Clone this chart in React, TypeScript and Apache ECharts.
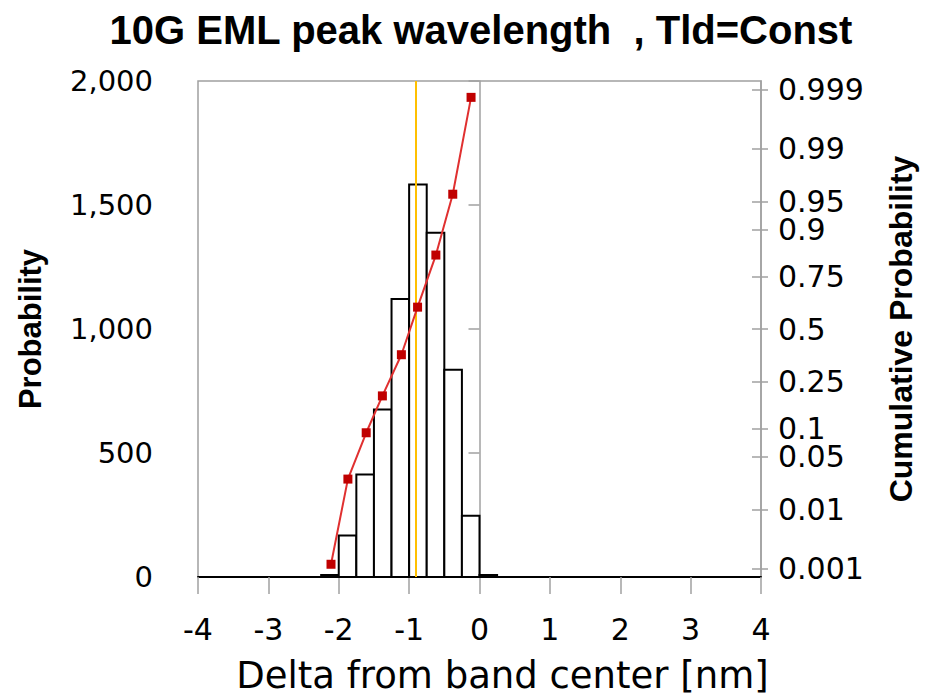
import React, { useEffect, useRef } from "react";
import * as echarts from "echarts";

const TITLE = "10G EML peak wavelength  , Tld=Const";
const X_NAME = "Delta from band center [nm]";
const Y_LEFT_NAME = "Probability";
const Y_RIGHT_NAME = "Cumulative Probability";

// Histogram bins (centers, width 0.25 nm) and counts
const BIN_WIDTH = 0.25;
const binCenters = [-2.125, -1.875, -1.625, -1.375, -1.125, -0.875, -0.625, -0.375, -0.125, 0.125];
const binCounts = [8, 167, 413, 675, 1121, 1583, 1388, 836, 247, 8];

// Cumulative probability points
const cumX = [-2.11, -1.87, -1.61, -1.38, -1.11, -0.88, -0.62, -0.38, -0.12];
const cumP = [0.0012, 0.0264, 0.0903, 0.194, 0.37, 0.611, 0.83, 0.959, 0.9986];

// Right-axis probability tick labels
const probTicks = [0.001, 0.01, 0.05, 0.1, 0.25, 0.5, 0.75, 0.9, 0.95, 0.99, 0.999];

// Mean marker
const meanX = -0.9;

// Inverse normal CDF (Acklam)
function probit(p: number): number {
  const a = [-3.969683028665376e1, 2.209460984245205e2, -2.759285104469687e2, 1.38357751867269e2, -3.066479806614716e1, 2.506628277459239];
  const b = [-5.447609879822406e1, 1.615858368580409e2, -1.556989798598866e2, 6.680131188771972e1, -1.328068155288572e1];
  const c = [-7.784894002430293e-3, -3.223964580411365e-1, -2.400758277161838, -2.549732539343734, 4.374664141464968, 2.938163982698783];
  const d = [7.784695709041462e-3, 3.224671290700398e-1, 2.445134137142996, 3.754408661907416];
  const pl = 0.02425;
  if (p < pl) {
    const q = Math.sqrt(-2 * Math.log(p));
    return (((((c[0] * q + c[1]) * q + c[2]) * q + c[3]) * q + c[4]) * q + c[5]) / ((((d[0] * q + d[1]) * q + d[2]) * q + d[3]) * q + 1);
  }
  if (p > 1 - pl) {
    const q = Math.sqrt(-2 * Math.log(1 - p));
    return -(((((c[0] * q + c[1]) * q + c[2]) * q + c[3]) * q + c[4]) * q + c[5]) / ((((d[0] * q + d[1]) * q + d[2]) * q + d[3]) * q + 1);
  }
  const q = p - 0.5;
  const r = q * q;
  return ((((((a[0] * r + a[1]) * r + a[2]) * r + a[3]) * r + a[4]) * r + a[5]) * q) / (((((b[0] * r + b[1]) * r + b[2]) * r + b[3]) * r + b[4]) * r + 1);
}

const zTicks = probTicks.map(probit);
const zLabel = (v: number) => {
  for (let i = 0; i < probTicks.length; i++) {
    if (Math.abs(zTicks[i] - v) < 1e-6) return String(probTicks[i]);
  }
  return "";
};

const GRAY = "#a0a0a0";
const NUM_FONT = "DejaVu Sans";
const BOLD_FONT = "Liberation Sans";

export default function App() {
  const ref = useRef<HTMLDivElement>(null);
  useEffect(() => {
    if (!ref.current) return;
    const chart = echarts.init(ref.current, undefined, { renderer: "svg" });
    const option: any = {
      animation: false,
      backgroundColor: "#fff",
      title: {
        text: TITLE,
        left: 476,
        top: 5,
        textAlign: "center",
        textStyle: { fontFamily: BOLD_FONT, fontWeight: "bold", fontSize: 40, color: "#000" },
      },
      grid: { left: 198, right: 159, top: 81, bottom: 118, show: true, borderColor: GRAY, borderWidth: 1.5, backgroundColor: "#fff" },
      xAxis: {
        type: "value",
        min: -4,
        max: 4,
        interval: 1,
        axisLine: { show: true, onZero: false, lineStyle: { color: "#000", width: 2 } },
        axisTick: { show: true, length: 17, lineStyle: { color: GRAY, width: 1.5 } },
        axisLabel: { margin: 37, fontSize: 30, fontFamily: NUM_FONT, color: "#000" },
        splitLine: { show: false },
        name: X_NAME,
        nameLocation: "middle",
        nameGap: 80,
        nameTextStyle: { fontFamily: NUM_FONT, fontSize: 37, color: "#000", padding: [0, 0, 0, 46] },
      },
      yAxis: [
        {
          type: "value",
          position: "left",
          min: 0,
          max: 2000,
          interval: 500,
          axisLine: { show: true, lineStyle: { color: GRAY, width: 1.5 } },
          axisTick: { show: true, length: 11, lineStyle: { color: GRAY, width: 1.5 } },
          axisLabel: {
            margin: 45,
            fontSize: 29,
            fontFamily: NUM_FONT,
            color: "#000",
            formatter: (v: number) => v.toLocaleString("en-US"),
          },
          splitLine: { show: false },
          name: Y_LEFT_NAME,
          nameLocation: "middle",
          nameGap: 152,
          nameTextStyle: { fontFamily: BOLD_FONT, fontWeight: "bold", fontSize: 31, color: "#000" },
        },
        {
          type: "value",
          position: "right",
          min: -3.2,
          max: 3.2,
          axisLine: { show: true, lineStyle: { color: GRAY, width: 1.5 } },
          axisTick: { show: true, length: 7, customValues: zTicks, lineStyle: { color: GRAY, width: 1.5 } },
          axisLabel: {
            margin: 17,
            fontSize: 30,
            lineHeight: 24,
            fontFamily: NUM_FONT,
            color: "#000",
            customValues: zTicks,
            formatter: (v: number) => zLabel(v),
          },
          splitLine: { show: false },
          name: Y_RIGHT_NAME,
          nameLocation: "middle",
          nameRotate: 90,
          nameGap: 124,
          nameTextStyle: { fontFamily: BOLD_FONT, fontWeight: "bold", fontSize: 32, color: "#000" },
        },
        {
          type: "value",
          position: "right",
          min: -3.2,
          max: 3.2,
          axisLine: { show: false },
          axisTick: { show: true, inside: true, length: 9, customValues: zTicks, lineStyle: { color: GRAY, width: 1.5 } },
          axisLabel: { show: false },
          splitLine: { show: false },
        },
      ],
      series: [
        {
          type: "custom",
          xAxisIndex: 0,
          yAxisIndex: 0,
          data: binCenters.map((c, i) => [c, binCounts[i]]),
          encode: { x: 0, y: 1 },
          renderItem: (params: any, api: any) => {
            const c = api.value(0);
            const h = api.value(1);
            const p0 = api.coord([c - BIN_WIDTH / 2, h]);
            const p1 = api.coord([c + BIN_WIDTH / 2, 0]);
            return {
              type: "rect",
              shape: { x: p0[0], y: p0[1], width: p1[0] - p0[0], height: p1[1] - p0[1] },
              style: { fill: "#fff", stroke: "#000", lineWidth: 2 },
            };
          },
          markLine: {
            silent: true,
            symbol: "none",
            label: { show: false },
            lineStyle: { color: "#FFC000", width: 2, type: "solid" },
            data: [{ xAxis: meanX }],
          },
        },
        {
          type: "line",
          xAxisIndex: 0,
          yAxisIndex: 1,
          data: cumX.map((x, i) => [x, probit(cumP[i])]),
          symbol: "rect",
          symbolSize: 9,
          itemStyle: { color: "#C00000" },
          lineStyle: { color: "#E03030", width: 2 },
          z: 5,
        },
      ],
    };
    chart.setOption(option);
    return () => chart.dispose();
  }, []);
  return <div ref={ref} style={{ position: "absolute", left: 0, top: 0, width: 925, height: 699 }} />;
}
